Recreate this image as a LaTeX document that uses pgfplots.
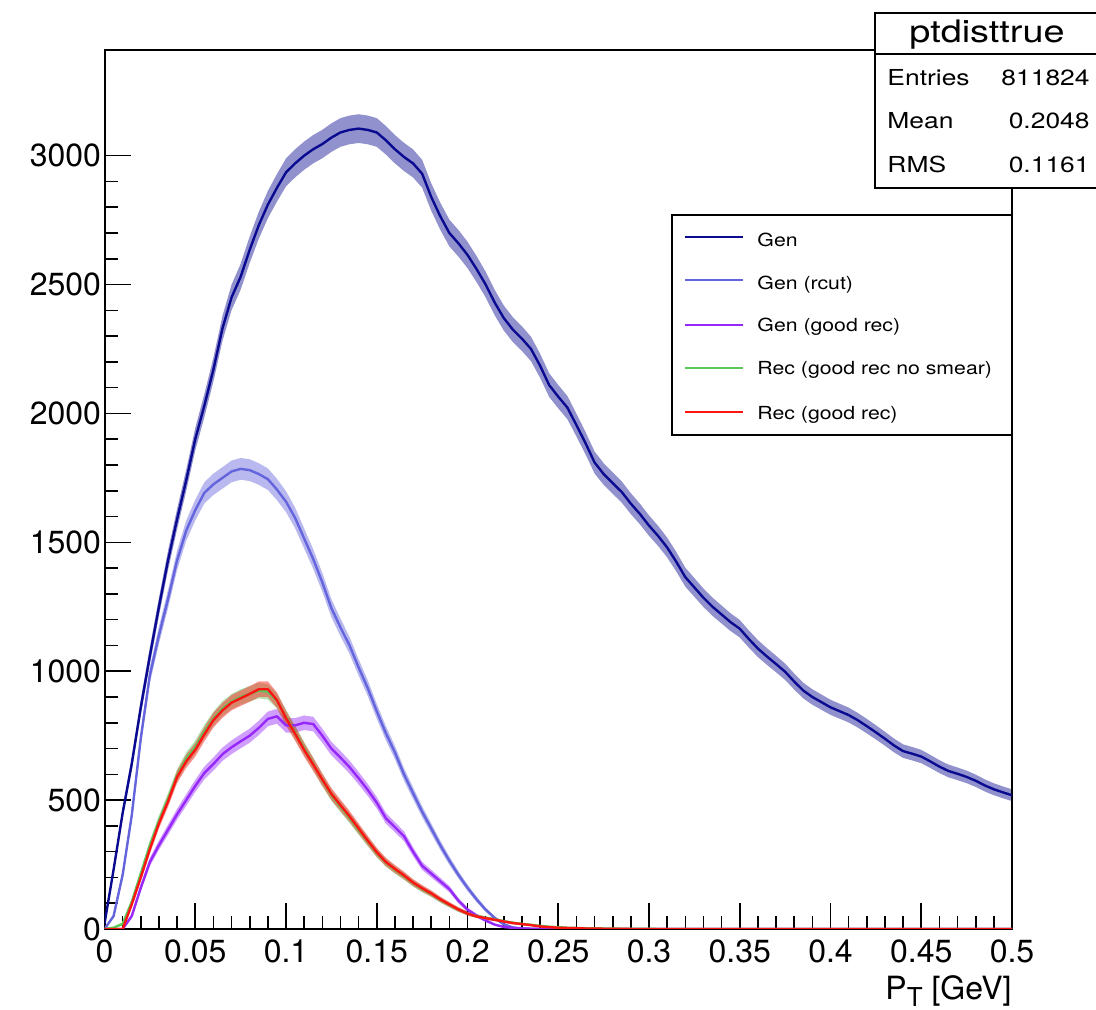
\documentclass[border=0pt]{standalone}
\usepackage{fontspec}
\setmainfont{TeX Gyre Heros}
\usepackage{pgfplots}
\pgfplotsset{compat=1.18}
\usepackage{pgfplotstable}
\definecolor{cgen}{RGB}{10,10,145}
\definecolor{crcut}{RGB}{100,100,220}
\definecolor{cgood}{RGB}{150,40,250}
\definecolor{cnos}{RGB}{90,200,90}
\definecolor{crec}{RGB}{255,20,20}
\pgfplotsset{
  frame/.style={at={(52.25pt,40.5pt)}, anchor=south west,
    scale only axis, width=453.75pt, height=439.5pt,
    xmin=0, xmax=0.5, ymin=0, ymax=3410},
  band/.style={frame, hide axis, stack plots=y},
}
\pgfplotstableread{
x g c p n r
0.000 20 0 0 0 0
0.005 230 50 0 5 0
0.010 450 210 0 20 0
0.015 640 440 50 105 95
0.020 860 740 160 215 200
0.025 1060 985 260 325 310
0.030 1250 1140 325 420 410
0.035 1430 1280 385 505 495
0.040 1590 1430 445 595 590
0.045 1740 1545 500 660 650
0.050 1900 1625 555 705 695
0.055 2030 1692 605 765 755
0.060 2170 1725 640 815 810
0.065 2330 1750 678 855 848
0.070 2450 1775 705 882 878
0.075 2530 1785 728 900 895
0.080 2635 1780 750 912 912
0.085 2730 1765 780 925 930
0.090 2810 1745 815 920 930
0.095 2875 1705 825 885 888
0.100 2935 1658 790 822 818
0.105 2970 1595 790 762 758
0.110 3000 1515 800 700 695
0.115 3025 1435 795 640 638
0.120 3045 1345 750 578 580
0.125 3070 1245 700 520 524
0.130 3090 1170 665 475 480
0.135 3100 1100 628 432 437
0.140 3105 1015 585 385 390
0.145 3100 935 540 340 343
0.150 3090 845 490 295 298
0.155 3060 760 430 258 260
0.160 3025 685 395 230 233
0.165 2995 600 360 205 208
0.170 2970 527 300 178 180
0.175 2930 455 245 155 158
0.180 2840 390 215 136 138
0.185 2765 325 185 113 115
0.190 2700 265 155 93 95
0.195 2660 210 110 75 76
0.200 2615 160 75 60 60
0.205 2560 115 52 50 49
0.210 2500 75 33 43 42
0.215 2430 43 17 37 36
0.220 2370 18 8 30 29
0.225 2325 6 4 24 23
0.230 2290 2 2 20 19
0.235 2250 1 1 16 15
0.240 2185 0 0 12 10
0.245 2110 0 0 9 7
0.250 2065 0 0 7 5
0.255 2023 0 0 5 4
0.260 1955 0 0 4 3
0.265 1885 0 0 3 2
0.270 1810 0 0 3 2
0.275 1765 0 0 2 1
0.280 1730 0 0 2 1
0.285 1695 0 0 1 1
0.290 1650 0 0 1 0
0.295 1610 0 0 1 0
0.300 1565 0 0 1 0
0.305 1525 0 0 0 0
0.310 1480 0 0 0 0
0.315 1425 0 0 0 0
0.320 1365 0 0 0 0
0.325 1325 0 0 0 0
0.330 1285 0 0 0 0
0.335 1250 0 0 0 0
0.340 1220 0 0 0 0
0.345 1190 0 0 0 0
0.350 1165 0 0 0 0
0.355 1125 0 0 0 0
0.360 1088 0 0 0 0
0.365 1057 0 0 0 0
0.370 1028 0 0 0 0
0.375 998 0 0 0 0
0.380 960 0 0 0 0
0.385 925 0 0 0 0
0.390 900 0 0 0 0
0.395 880 0 0 0 0
0.400 860 0 0 0 0
0.405 845 0 0 0 0
0.410 830 0 0 0 0
0.415 810 0 0 0 0
0.420 787 0 0 0 0
0.425 763 0 0 0 0
0.430 738 0 0 0 0
0.435 712 0 0 0 0
0.440 690 0 0 0 0
0.445 680 0 0 0 0
0.450 669 0 0 0 0
0.455 650 0 0 0 0
0.460 630 0 0 0 0
0.465 613 0 0 0 0
0.470 602 0 0 0 0
0.475 590 0 0 0 0
0.480 575 0 0 0 0
0.485 557 0 0 0 0
0.490 542 0 0 0 0
0.495 530 0 0 0 0
0.500 519 0 0 0 0
}\datatable

\begin{document}
\begin{tikzpicture}
% statistical spread bands (sqrt(N)) behind the histogram lines
\begin{axis}[band]
\addplot[draw=none] table[x=x, y expr=\thisrow{g}-1.0*sqrt(\thisrow{g})]{\datatable};
\addplot[fill=cgen, fill opacity=0.45, draw=none] table[x=x, y expr=2.0*sqrt(\thisrow{g})]{\datatable} \closedcycle;
\end{axis}
\begin{axis}[band]
\addplot[draw=none] table[x=x, y expr=\thisrow{c}-1.0*sqrt(\thisrow{c})]{\datatable};
\addplot[fill=crcut, fill opacity=0.45, draw=none] table[x=x, y expr=2.0*sqrt(\thisrow{c})]{\datatable} \closedcycle;
\end{axis}
\begin{axis}[band]
\addplot[draw=none] table[x=x, y expr=\thisrow{p}-1.0*sqrt(\thisrow{p})]{\datatable};
\addplot[fill=cgood, fill opacity=0.45, draw=none] table[x=x, y expr=2.0*sqrt(\thisrow{p})]{\datatable} \closedcycle;
\end{axis}
\begin{axis}[band]
\addplot[draw=none] table[x=x, y expr=\thisrow{n}-1.0*sqrt(\thisrow{n})]{\datatable};
\addplot[fill=cnos, fill opacity=0.45, draw=none] table[x=x, y expr=2.0*sqrt(\thisrow{n})]{\datatable} \closedcycle;
\end{axis}
\begin{axis}[band]
\addplot[draw=none] table[x=x, y expr=\thisrow{r}-1.0*sqrt(\thisrow{r})]{\datatable};
\addplot[fill=crec, fill opacity=0.45, draw=none] table[x=x, y expr=2.0*sqrt(\thisrow{r})]{\datatable} \closedcycle;
\end{axis}
% main axis
\begin{axis}[
  frame,
  xtick={0,0.05,0.1,0.15,0.2,0.25,0.3,0.35,0.4,0.45,0.5},
  xticklabels={0,0.05,0.1,0.15,0.2,0.25,0.3,0.35,0.4,0.45,0.5},
  ytick={0,500,1000,1500,2000,2500,3000},
  yticklabels={0,500,1000,1500,2000,2500,3000},
  minor x tick num=4, minor y tick num=4,
  tick align=inside, xtick pos=bottom, ytick pos=left,
  major tick length=13pt, minor tick length=6.5pt,
  every tick/.style={black, line width=0.8pt},
  axis line style={line width=1pt},
  /pgf/number format/assume math mode=true,
  tick label style={font=\fontsize{16}{16}\selectfont},
  xticklabel style={yshift=-1.7pt},
  yticklabel style={xshift=1.8pt},
]
\addplot[cgen, line width=1.2pt, line join=round] table[x=x, y=g]{\datatable};
\addplot[crcut, line width=1.2pt, line join=round] table[x=x, y=c]{\datatable};
\addplot[cgood, line width=1.2pt, line join=round] table[x=x, y=p]{\datatable};
\addplot[cnos, line width=1.2pt, line join=round] table[x=x, y=n]{\datatable};
\addplot[crec, line width=1.2pt, line join=round] table[x=x, y=r]{\datatable};
\end{axis}
\begin{scope}[x=1pt,y=1pt]
% x axis label
\node[anchor=base east, font=\fontsize{16}{16}\selectfont, inner sep=0pt] at (506,5) {P\raisebox{-3.5pt}{\fontsize{13}{13}\selectfont T} [GeV]};
% legend
\draw[line width=0.75pt, fill=white] (336,287.5) rectangle (506,397.5);
\draw[cgen, line width=1pt] (342.5,386.7) -- (371.5,386.7);
\draw[crcut, line width=1pt] (342.5,365) -- (371.5,365);
\draw[cgood, line width=1pt] (342.5,342.5) -- (371.5,342.5);
\draw[cnos, line width=1pt] (342.5,320.8) -- (371.5,320.8);
\draw[crec, line width=1pt] (342.5,299.2) -- (371.5,299.2);
\begin{scope}[every node/.style={anchor=base west, inner sep=0pt, font=\fontsize{9}{9}\selectfont, xscale=1.18, transform shape}]
\node at (378.5,381.7) {Gen};
\node at (378.5,360.3) {Gen (rcut)};
\node at (378.5,339.2) {Gen (good rec)};
\node at (378.5,317.5) {Rec (good rec no smear)};
\node at (378.5,295) {Rec (good rec)};
\end{scope}
% stats box
\draw[line width=0.75pt, fill=white] (437.5,411) rectangle (552,498.6);
\draw[line width=0.75pt] (437.5,478) -- (552,478);
\node[font=\fontsize{15.5}{15.5}\selectfont, xscale=1.22, transform shape, inner sep=0pt] at (493.5,487.5) {ptdisttrue};
\begin{scope}[every node/.style={inner sep=0pt, font=\fontsize{11}{11}\selectfont, xscale=1.2, transform shape}]
\node[anchor=base west] at (443.5,462) {Entries};
\node[anchor=base west] at (443.5,440.5) {Mean};
\node[anchor=base west] at (443.5,418.5) {RMS};
\node[anchor=base east] at (545,462) {811824};
\node[anchor=base east] at (545,440.5) {0.2048};
\node[anchor=base east] at (545,418.5) {0.1161};
\end{scope}
\pgfresetboundingbox
\path[use as bounding box] (0,0) rectangle (548,505);
\end{scope}
\end{tikzpicture}
\end{document}
